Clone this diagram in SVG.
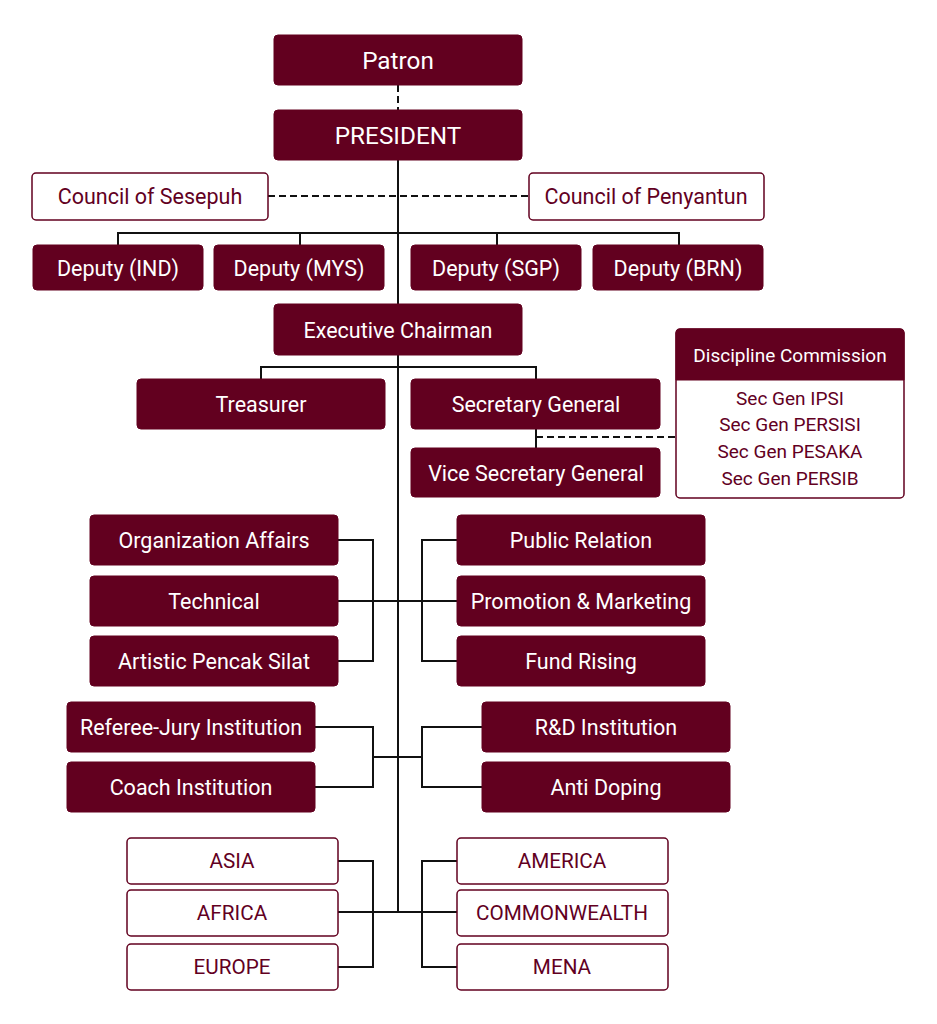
<svg xmlns="http://www.w3.org/2000/svg" width="937" height="1024" viewBox="0 0 937 1024">
<style>
.f{fill:#62001f;stroke:#62001f;stroke-width:1}
.o{fill:#fff;stroke:#62001f;stroke-width:1.5}
.t{font-family:Roboto,"Liberation Sans",sans-serif;font-size:21.5px;text-anchor:middle;dominant-baseline:central}
.t.r{font-size:20.7px}
.t.s{font-size:19px}
.t.p{font-size:24.3px}
.w{fill:#fff}
.m{fill:#62001f}
.l{fill:none;stroke:#111;stroke-width:2}
.d{fill:none;stroke:#111;stroke-width:2;stroke-dasharray:7,4}
</style>
<rect width="937" height="1024" fill="#fff"/>
<g id="connectors">
<path class="d" d="M398 85V110"/>
<path class="l" d="M398 160V912"/>
<path class="d" d="M268 196H529"/>
<path class="l" d="M118 245V233H679V245M300 233V245M497 233V245"/>
<path class="l" d="M261 379V367H536V379"/>
<path class="l" d="M536 429V448"/>
<path class="d" d="M536 437H676"/>
<path class="l" d="M338 540H373V661H338M338 601H457M457 540H422V661H457"/>
<path class="l" d="M315 727H373V787H315M373 757H422M482 727H422V787H482"/>
<path class="l" d="M338 861H373V967H338M338 912H457M457 861H422V967H457"/>
</g>
<g id="patron"><rect class="f" x="274" y="35" width="248" height="50" rx="4"/><text class="t p w" x="398" y="60">Patron</text></g>
<g id="president"><rect class="f" x="274" y="110" width="248" height="50" rx="4"/><text class="t p w" x="398" y="135">PRESIDENT</text></g>
<g id="sesepuh"><rect class="o" x="32" y="173" width="236" height="47" rx="4"/><text class="t m" x="150" y="196">Council of Sesepuh</text></g>
<g id="penyantun"><rect class="o" x="529" y="173" width="235" height="47" rx="4"/><text class="t m" x="646" y="196">Council of Penyantun</text></g>
<g id="dep-ind"><rect class="f" x="33" y="245" width="170" height="45" rx="4"/><text class="t w" x="118" y="268">Deputy (IND)</text></g>
<g id="dep-mys"><rect class="f" x="214" y="245" width="170" height="45" rx="4"/><text class="t w" x="299" y="268">Deputy (MYS)</text></g>
<g id="dep-sgp"><rect class="f" x="411" y="245" width="170" height="45" rx="4"/><text class="t w" x="496" y="268">Deputy (SGP)</text></g>
<g id="dep-brn"><rect class="f" x="593" y="245" width="170" height="45" rx="4"/><text class="t w" x="678" y="268">Deputy (BRN)</text></g>
<g id="exec"><rect class="f" x="274" y="304" width="248" height="51" rx="4"/><text class="t w" x="398" y="330">Executive Chairman</text></g>
<g id="treasurer"><rect class="f" x="137" y="379" width="248" height="50" rx="4"/><text class="t w" x="261" y="404">Treasurer</text></g>
<g id="secgen"><rect class="f" x="411" y="379" width="249" height="50" rx="4"/><text class="t w" x="536" y="404">Secretary General</text></g>
<g id="vicesecgen"><rect class="f" x="411" y="448" width="249" height="49" rx="4"/><text class="t w" x="536" y="473">Vice Secretary General</text></g>
<g id="discipline">
<rect class="o" x="676" y="329" width="228" height="169" rx="4"/>
<path class="f" d="M680 329H900A4 4 0 0 1 904 333V380H676V333A4 4 0 0 1 680 329Z"/>
<text class="t s w" x="790" y="355">Discipline Commission</text>
<text class="t s m" x="790" y="398">Sec Gen IPSI</text>
<text class="t s m" x="790" y="424">Sec Gen PERSISI</text>
<text class="t s m" x="790" y="451">Sec Gen PESAKA</text>
<text class="t s m" x="790" y="478">Sec Gen PERSIB</text>
</g>
<g id="org"><rect class="f" x="90" y="515" width="248" height="50" rx="4"/><text class="t w" x="214" y="540">Organization Affairs</text></g>
<g id="technical"><rect class="f" x="90" y="576" width="248" height="50" rx="4"/><text class="t w" x="214" y="601">Technical</text></g>
<g id="artistic"><rect class="f" x="90" y="636" width="248" height="50" rx="4"/><text class="t w" x="214" y="661">Artistic Pencak Silat</text></g>
<g id="pr"><rect class="f" x="457" y="515" width="248" height="50" rx="4"/><text class="t w" x="581" y="540">Public Relation</text></g>
<g id="promo"><rect class="f" x="457" y="576" width="248" height="50" rx="4"/><text class="t w" x="581" y="601">Promotion &amp; Marketing</text></g>
<g id="fund"><rect class="f" x="457" y="636" width="248" height="50" rx="4"/><text class="t w" x="581" y="661">Fund Rising</text></g>
<g id="referee"><rect class="f" x="67" y="702" width="248" height="50" rx="4"/><text class="t w" x="191" y="727">Referee-Jury Institution</text></g>
<g id="coach"><rect class="f" x="67" y="762" width="248" height="50" rx="4"/><text class="t w" x="191" y="787">Coach Institution</text></g>
<g id="rnd"><rect class="f" x="482" y="702" width="248" height="50" rx="4"/><text class="t w" x="606" y="727">R&amp;D Institution</text></g>
<g id="doping"><rect class="f" x="482" y="762" width="248" height="50" rx="4"/><text class="t w" x="606" y="787">Anti Doping</text></g>
<g id="asia"><rect class="o" x="127" y="838" width="211" height="46" rx="4"/><text class="t r m" x="232" y="861">ASIA</text></g>
<g id="africa"><rect class="o" x="127" y="890" width="211" height="46" rx="4"/><text class="t r m" x="232" y="913">AFRICA</text></g>
<g id="europe"><rect class="o" x="127" y="944" width="211" height="46" rx="4"/><text class="t r m" x="232" y="967">EUROPE</text></g>
<g id="america"><rect class="o" x="457" y="838" width="211" height="46" rx="4"/><text class="t r m" x="562" y="861">AMERICA</text></g>
<g id="commonwealth"><rect class="o" x="457" y="890" width="211" height="46" rx="4"/><text class="t r m" x="562" y="913">COMMONWEALTH</text></g>
<g id="mena"><rect class="o" x="457" y="944" width="211" height="46" rx="4"/><text class="t r m" x="562" y="967">MENA</text></g>
</svg>
